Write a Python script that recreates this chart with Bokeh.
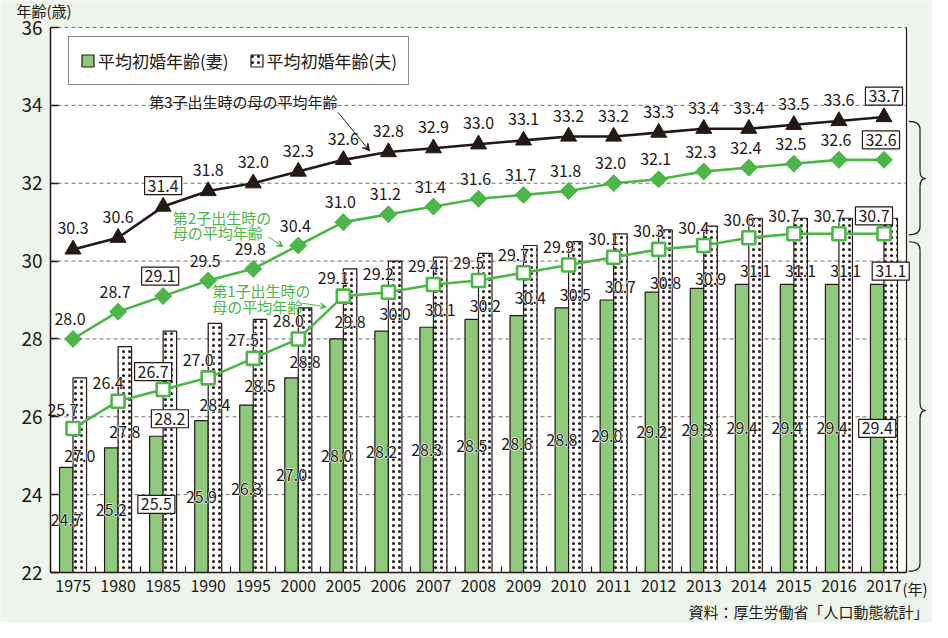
import math
from bokeh.plotting import figure
from bokeh.models import (Range1d, FixedTicker, ColumnDataSource, Label, Arrow,
                          VeeHead, Legend, LegendItem, Text)
from bokeh.core.properties import value
from bokeh.embed import file_html
from bokeh.resources import INLINE

# ---------------- data ----------------
years = ["1975", "1980", "1985", "1990", "1995", "2000", "2005", "2006", "2007",
         "2008", "2009", "2010", "2011", "2012", "2013", "2014", "2015", "2016", "2017"]
wife_first_marriage = [24.7, 25.2, 25.5, 25.9, 26.3, 27.0, 28.0, 28.2, 28.3, 28.5,
                       28.6, 28.8, 29.0, 29.2, 29.3, 29.4, 29.4, 29.4, 29.4]
husband_first_marriage = [27.0, 27.8, 28.2, 28.4, 28.5, 28.8, 29.8, 30.0, 30.1, 30.2,
                          30.4, 30.5, 30.7, 30.8, 30.9, 31.1, 31.1, 31.1, 31.1]
mother_first_child = [25.7, 26.4, 26.7, 27.0, 27.5, 28.0, 29.1, 29.2, 29.4, 29.5,
                      29.7, 29.9, 30.1, 30.3, 30.4, 30.6, 30.7, 30.7, 30.7]
mother_second_child = [28.0, 28.7, 29.1, 29.5, 29.8, 30.4, 31.0, 31.2, 31.4, 31.6,
                       31.7, 31.8, 32.0, 32.1, 32.3, 32.4, 32.5, 32.6, 32.6]
mother_third_child = [30.3, 30.6, 31.4, 31.8, 32.0, 32.3, 32.6, 32.8, 32.9, 33.0,
                      33.1, 33.2, 33.2, 33.3, 33.4, 33.4, 33.5, 33.6, 33.7]
y_ticks = [22, 24, 26, 28, 30, 32, 34, 36]
boxed_years = ["1985", "2017"]
# label placement (how far below the bar top the husband's value sits)
husband_label_drop = [2.0, 2.2, 2.25, 2.1, 1.7, 1.38] + [1.36] * 13

FONT = "Noto Sans CJK JP"
DARK = "#231815"
GREEN = "#4cb648"
BAR_GREEN = "#8fca7c"
BG = "#eef5ec"
GRID = "#707070"

W, H = 932, 622
BOX_L, BOX_T, BOX_B = 50, 27, 572       # plot box edges in figure px
n = len(years)
PXX = 856 / n
PXY = (BOX_B - BOX_T) / (y_ticks[-1] - y_ticks[0])
xs = list(range(n))


def fx(px):  # figure px -> data x
    return (px - BOX_L) / PXX - 0.5


def fy(py):  # figure px -> data y
    return y_ticks[-1] - (py - BOX_T) / PXY


def rx(xw):  # reference window px -> data x
    return (xw - 57.6) / 45.8 - 0.5


def ry(yw):  # reference window px -> data y
    return 22 + (587 - yw) / 39.43


p = figure(width=W, height=H, x_range=Range1d(fx(0), fx(W)),
           y_range=Range1d(fy(H), fy(0)),
           output_backend="svg", toolbar_location=None,
           min_border=0, min_border_left=0, min_border_right=0,
           min_border_top=0, min_border_bottom=0,
           background_fill_color=BG, border_fill_color=BG, outline_line_color=None)
p.xgrid.visible = False
p.ygrid.visible = False

# plot box
p.quad(left=[-0.5], right=[n - 0.5], bottom=[y_ticks[0]], top=[y_ticks[-1]],
       fill_color="white", line_color=None)
gy = y_ticks[1:]
p.segment(x0=[-0.5] * len(gy), x1=[n - 0.5] * len(gy), y0=gy, y1=gy,
          line_color=GRID, line_width=1, line_dash="4 3")
p.segment(x0=[n - 0.5], x1=[n - 0.5], y0=[y_ticks[0]], y1=[y_ticks[-1]],
          line_color=DARK, line_width=1.2)

# bars
wife_r = p.vbar(x=[i - 0.15 for i in xs], width=0.3, top=wife_first_marriage,
                bottom=y_ticks[0], fill_color=BAR_GREEN, line_color=DARK, line_width=1.2)
hus_r = p.vbar(x=[i + 0.15 for i in xs], width=0.3, top=husband_first_marriage,
               bottom=y_ticks[0], fill_color="white", hatch_pattern="dot",
               hatch_color=DARK, hatch_scale=6, hatch_weight=1,
               line_color=DARK, line_width=1.2)

# lines
p.line(xs, mother_third_child, line_color=DARK, line_width=2.6)
p.scatter(xs, mother_third_child, marker="triangle", size=16, fill_color=DARK, line_color=DARK)
p.line(xs, mother_second_child, line_color=GREEN, line_width=2.6)
p.scatter(xs, mother_second_child, marker="square", angle=math.pi / 4, size=12,
          fill_color=GREEN, line_color=GREEN)
p.line(xs, mother_first_child, line_color=GREEN, line_width=2.6)
p.scatter(xs, mother_first_child, marker="square", size=13, fill_color="white",
          line_color=GREEN, line_width=2.6)

# value labels
norm = dict(x=[], y=[], text=[], xo=[], yo=[])
boxed = dict(x=[], y=[], text=[], xo=[], yo=[])


def add(d, x, y, t, xo, yo):
    d["x"].append(x); d["y"].append(y); d["text"].append(t)
    d["xo"].append(xo); d["yo"].append(yo)


for i, yr in enumerate(years):
    d = boxed if yr in boxed_years else norm
    w = wife_first_marriage[i]
    add(d, i - 0.15, (y_ticks[0] + w) / 2, f"{w:.1f}", 0, 0)
    h = husband_first_marriage[i]
    add(d, i + 0.15, h - husband_label_drop[i], f"{h:.1f}", 0, 0)
    add(d, i, mother_first_child[i], f"{mother_first_child[i]:.1f}", -10, -18)
    add(d, i, mother_second_child[i], f"{mother_second_child[i]:.1f}", -3, -20)
    add(d, i, mother_third_child[i], f"{mother_third_child[i]:.1f}", 0, -21)

props = Text.properties()
common = dict(x="x", y="y", text="text", x_offset="xo", y_offset="yo",
              text_font=value(FONT), text_font_size="16px",
              text_align="center", text_baseline="middle")
norm_src = ColumnDataSource(norm)
if "text_outline_color" in props:
    # white halo underneath
    p.text(source=norm_src, text_color="white", text_outline_color="white", **common)
p.text(source=norm_src, text_color=DARK, **common)
if "border_line_color" in props:
    p.text(source=ColumnDataSource(boxed), text_color=DARK, background_fill_color="white",
           border_line_color=DARK, border_line_width=1.2, padding=3, **common)
else:
    p.text(source=ColumnDataSource(boxed), text_color=DARK, **common)


# annotations
def label(x, y, t, color=DARK, size="15px", align="left"):
    p.add_layout(Label(x=x, y=y, text=t, text_font=FONT, text_font_size=size,
                       text_color=color, text_baseline="middle", text_align=align))


label(rx(158), ry(110), "第3子出生時の母の平均年齢")
p.add_layout(Arrow(end=VeeHead(size=7, fill_color=DARK, line_color=DARK, line_width=1),
                   x_start=rx(350), y_start=ry(121), x_end=rx(382), y_end=ry(160),
                   line_color=DARK, line_width=1))
label(rx(182), ry(227), "第2子出生時の", GREEN)
label(rx(182), ry(243), "母の平均年齢", GREEN)
p.add_layout(Arrow(end=VeeHead(size=6, fill_color=GREEN, line_color=GREEN, line_width=1),
                   x_start=rx(279), y_start=ry(247), x_end=rx(294), y_end=ry(257),
                   line_color=GREEN, line_width=1))
label(rx(222), ry(301), "第1子出生時の", GREEN)
label(rx(222), ry(318), "母の平均年齢", GREEN)
p.add_layout(Arrow(end=VeeHead(size=6, fill_color=GREEN, line_color=GREEN, line_width=1),
                   x_start=rx(312), y_start=ry(314), x_end=rx(338), y_end=ry(318),
                   line_color=GREEN, line_width=1))

label(fx(16), fy(10), "年齢(歳)")
label(fx(902), fy(588), "(年)")
label(fx(928), fy(611), "資料：厚生労働省「人口動態統計」", align="right")


# braces on the right
def brace(top, bot, mid):
    xl, xm, xr = n - 0.5 + 0.05, n - 0.5 + 0.3, n - 0.5 + 0.42
    r = 0.2
    p.quadratic(x0=[xl, xm, xr, xm], y0=[top, mid + r, mid, bot + r],
                x1=[xm, xr, xm, xl], y1=[top - r, mid, mid - r, bot],
                cx=[xm, xm, xm, xm], cy=[top, mid, mid, bot],
                line_color=DARK, line_width=1.2)
    p.segment(x0=[xm, xm], x1=[xm, xm], y0=[top - r, mid - r], y1=[mid + r, bot + r],
              line_color=DARK, line_width=1.2)


brace(ry(130), ry(245), ry(188))
brace(ry(252), y_ticks[0] + 0.03, ry(423))

# legend
legend = Legend(items=[LegendItem(label="平均初婚年齢(妻)", renderers=[wife_r]),
                       LegendItem(label="平均初婚年齢(夫)", renderers=[hus_r])],
                orientation="horizontal", location=(68, H - 85),
                border_line_color=DARK, border_line_width=1.2,
                background_fill_color="white", background_fill_alpha=1,
                label_text_font=FONT, label_text_font_size="17px",
                label_text_color=DARK, glyph_width=15, glyph_height=15,
                spacing=20, padding=11, margin=0, label_standoff=3, label_height=17)
p.add_layout(legend)

# axes (fixed inside the frame at the plot box edges)
p.yaxis.fixed_location = -0.5
p.yaxis.bounds = (y_ticks[0], y_ticks[-1])
p.yaxis.ticker = FixedTicker(ticks=y_ticks)
p.yaxis.major_tick_in = 8
p.yaxis.major_tick_out = 0
p.yaxis.minor_tick_in = 0
p.yaxis.minor_tick_out = 0
p.yaxis.major_label_standoff = 8
p.yaxis.major_label_text_font = FONT
p.yaxis.major_label_text_font_size = "19px"

p.xaxis.fixed_location = y_ticks[0]
p.xaxis.ticker = FixedTicker(ticks=xs, minor_ticks=[i - 0.5 for i in range(n + 1)])
p.xaxis.major_label_overrides = {i: yr for i, yr in enumerate(years)}
p.xaxis.major_tick_in = 0
p.xaxis.major_tick_out = 0
p.xaxis.minor_tick_in = 6
p.xaxis.minor_tick_out = 0
p.xaxis.bounds = (-0.5, n - 0.5)
p.xaxis.major_label_standoff = 7
p.xaxis.major_label_text_font = FONT
p.xaxis.major_label_text_font_size = "16px"

for ax in (p.xaxis, p.yaxis):
    ax.axis_line_color = DARK
    ax.axis_line_width = 1.5
    ax.major_tick_line_color = DARK
    ax.major_tick_line_width = 1.5
    ax.minor_tick_line_color = DARK
    ax.minor_tick_line_width = 1.2
    ax.major_label_text_color = DARK

open("out.html", "w").write(file_html(p, INLINE))
